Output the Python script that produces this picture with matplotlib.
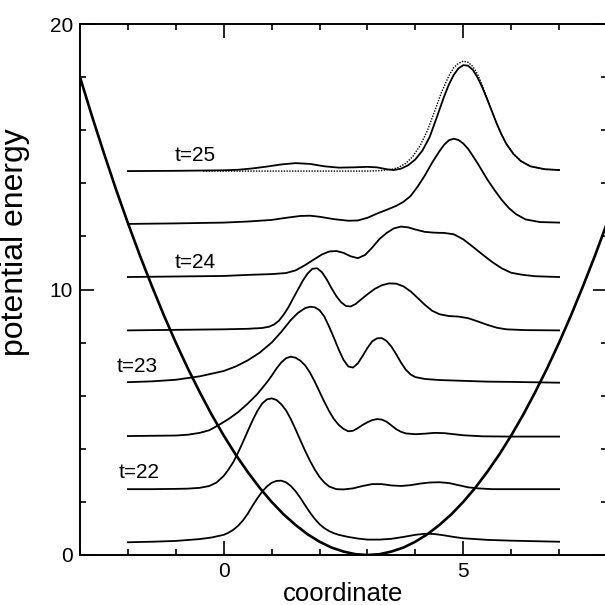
import numpy as np
import matplotlib
matplotlib.use('Agg')
import matplotlib.pyplot as plt
from matplotlib.ticker import MultipleLocator

plt.rcParams['font.family'] = ['Liberation Sans', 'DejaVu Sans']

# potential energy curve
pot_x = [-3, -2.75, -2.5, -2.25, -2, -1.75, -1.5, -1.25, -1, -0.75, -0.5, -0.25,
         0, 0.25, 0.5, 0.75, 1, 1.25, 1.5, 1.75, 2, 2.25, 2.5, 2.75, 3,
         3.25, 3.5, 3.75, 4, 4.25, 4.5, 4.75, 5, 5.25, 5.5, 5.75, 6, 6.25,
         6.5, 6.75, 7, 7.25, 7.5, 7.75, 8]
pot_y = [18, 16.53, 15.13, 13.78, 12.5, 11.28, 10.13, 9.03, 8, 7.03, 6.13, 5.28,
         4.5, 3.78, 3.13, 2.53, 2, 1.53, 1.13, 0.78, 0.5, 0.28, 0.13, 0.03, 0,
         0.03, 0.13, 0.28, 0.5, 0.78, 1.13, 1.53, 2, 2.53, 3.13, 3.78, 4.5, 5.28,
         6.13, 7.03, 8, 9.03, 10.13, 11.28, 12.5]

# wave packets (bottom to top), drawn on their baselines
x1 = [-2, -1.5, -1, -0.5, -0.25, 0, 0.1, 0.2, 0.3, 0.4, 0.5, 0.6, 0.7, 0.8,
      0.9, 1.0, 1.1, 1.2, 1.3, 1.4, 1.5, 1.6, 1.7, 1.8, 1.9, 2.0, 2.1, 2.2,
      2.3, 2.4, 2.6, 2.8, 3.0, 3.25, 3.5, 3.75, 4.0, 4.2, 4.4, 4.6, 4.8, 5.0,
      5.5, 6.0, 6.5, 7]
y1 = [0.48, 0.5, 0.53, 0.6, 0.66, 0.76, 0.84, 0.95, 1.1, 1.3, 1.55, 1.85,
      2.13, 2.38, 2.58, 2.72, 2.79, 2.8, 2.74, 2.6, 2.4, 2.15, 1.87, 1.6, 1.36,
      1.16, 1.01, 0.9, 0.82, 0.76, 0.68, 0.62, 0.58, 0.58, 0.61, 0.68, 0.76,
      0.8, 0.79, 0.74, 0.68, 0.63, 0.57, 0.54, 0.52, 0.5]

x2 = [-2, -1.5, -1, -0.75, -0.5, -0.3, -0.15, 0, 0.1, 0.2, 0.3, 0.4, 0.5,
      0.6, 0.7, 0.8, 0.9, 1.0, 1.1, 1.2, 1.3, 1.4, 1.5, 1.6, 1.7, 1.8, 1.9,
      2.0, 2.1, 2.2, 2.35, 2.5, 2.7, 2.9, 3.1, 3.3, 3.5, 3.7, 3.9, 4.1, 4.3,
      4.5, 4.7, 4.9, 5.1, 5.3, 5.6, 6.0, 6.5, 7]
y2 = [2.48, 2.48, 2.49, 2.5, 2.53, 2.6, 2.73, 2.98, 3.22, 3.5, 3.86, 4.25,
      4.66, 5.06, 5.42, 5.7, 5.86, 5.9, 5.84, 5.68, 5.45, 5.12, 4.73, 4.32,
      3.92, 3.55, 3.22, 2.94, 2.73, 2.58, 2.48, 2.47, 2.51, 2.6, 2.67, 2.67,
      2.62, 2.6, 2.63, 2.69, 2.73, 2.74, 2.71, 2.63, 2.55, 2.51, 2.48, 2.48,
      2.48, 2.48]

x3 = [-2, -1.5, -1, -0.75, -0.5, -0.3, -0.1, 0.1, 0.3, 0.5, 0.7, 0.9, 1.0,
      1.1, 1.2, 1.3, 1.4, 1.5, 1.6, 1.7, 1.8, 1.9, 2.0, 2.1, 2.2, 2.3, 2.4,
      2.5, 2.6, 2.7, 2.8, 2.9, 3.0, 3.1, 3.2, 3.3, 3.4, 3.5, 3.6, 3.7, 3.8,
      4.0, 4.2, 4.4, 4.6, 4.8, 5.0, 5.4, 6.0, 7]
y3 = [4.48, 4.49, 4.5, 4.53, 4.6, 4.7, 4.9, 5.12, 5.38, 5.7, 6.06, 6.5, 6.75,
      7.02, 7.25, 7.41, 7.47, 7.43, 7.32, 7.14, 6.87, 6.53, 6.15, 5.77, 5.42,
      5.12, 4.9, 4.75, 4.66, 4.68, 4.78, 4.9, 5.0, 5.08, 5.12, 5.1, 5.02, 4.88,
      4.74, 4.64, 4.58, 4.55, 4.57, 4.6, 4.59, 4.55, 4.51, 4.47, 4.46, 4.46]

x4 = [-2, -1.5, -1, -0.5, 0, 0.25, 0.5, 0.75, 1.0, 1.2, 1.4, 1.55, 1.7, 1.8,
      1.9, 2.0, 2.1, 2.2, 2.3, 2.4, 2.5, 2.6, 2.7, 2.8, 2.9, 3.0, 3.1, 3.2,
      3.3, 3.4, 3.5, 3.6, 3.7, 3.8, 3.9, 4.0, 4.2, 4.5, 5.0, 5.5, 6.0, 7]
y4 = [6.51, 6.54, 6.6, 6.73, 6.93, 7.1, 7.33, 7.62, 8.0, 8.4, 8.85, 9.12, 9.3,
      9.35, 9.33, 9.22, 8.98, 8.6, 8.18, 7.74, 7.35, 7.1, 7.06, 7.22, 7.5, 7.8,
      8.05, 8.16, 8.17, 8.06, 7.85, 7.56, 7.25, 6.98, 6.8, 6.7, 6.63, 6.59,
      6.56, 6.53, 6.52, 6.49]

x5 = [-2, -1, 0, 0.5, 0.8, 0.95, 1.05, 1.15, 1.25, 1.35, 1.45, 1.55, 1.65,
      1.75, 1.85, 1.95, 2.05, 2.15, 2.25, 2.35, 2.45, 2.55, 2.65, 2.75, 2.85,
      3.0, 3.15, 3.3, 3.45, 3.6, 3.75, 3.9, 4.05, 4.2, 4.35, 4.5, 4.7, 4.9,
      5.1, 5.3, 5.5, 5.7, 5.9, 6.3, 7]
y5 = [8.46, 8.48, 8.5, 8.52, 8.55, 8.6, 8.68, 8.82, 9.05, 9.33, 9.67, 10.0,
      10.33, 10.6, 10.78, 10.8, 10.65, 10.38, 10.05, 9.75, 9.52, 9.38, 9.36,
      9.45, 9.6, 9.82, 10.02, 10.16, 10.23, 10.22, 10.12, 9.93, 9.68, 9.42,
      9.2, 9.07, 9.0, 8.98, 8.92, 8.8, 8.67, 8.56, 8.5, 8.47, 8.46]

x6 = [-2, -1, 0, 0.5, 1.0, 1.3, 1.5, 1.7, 1.9, 2.05, 2.2, 2.35, 2.5, 2.65,
      2.8, 2.95, 3.1, 3.25, 3.4, 3.55, 3.7, 3.85, 4.0, 4.2, 4.4, 4.6, 4.8,
      5.0, 5.2, 5.4, 5.6, 5.8, 6.0, 6.25, 6.5, 7]
y6 = [10.47, 10.49, 10.51, 10.55, 10.58, 10.62, 10.72, 10.92, 11.15, 11.32,
      11.43, 11.45, 11.38, 11.25, 11.18, 11.3, 11.58, 11.9, 12.13, 12.3, 12.37,
      12.34, 12.26, 12.17, 12.14, 12.13, 12.08, 11.89, 11.61, 11.32, 11.04,
      10.8, 10.63, 10.55, 10.5, 10.47]

x7 = [-2, -1, 0, 0.5, 1.0, 1.3, 1.6, 1.8, 2.0, 2.3, 2.6, 2.8, 3.0, 3.2, 3.4,
      3.6, 3.75, 3.9, 4.05, 4.2, 4.35, 4.5, 4.6, 4.7, 4.8, 4.9, 5.0, 5.1, 5.2,
      5.3, 5.4, 5.5, 5.65, 5.8, 5.95, 6.1, 6.3, 6.6, 7]
y7 = [12.47, 12.49, 12.52, 12.56, 12.62, 12.7, 12.77, 12.78, 12.74, 12.65,
      12.59, 12.6, 12.7, 12.86, 13.0, 13.15, 13.3, 13.52, 13.88, 14.3, 14.78,
      15.2, 15.45, 15.62, 15.68, 15.63, 15.5, 15.3, 15.03, 14.75, 14.45, 14.15,
      13.75, 13.38, 13.07, 12.84, 12.64, 12.54, 12.52]

x8 = [-2, -1, 0, 0.3, 0.6, 0.9, 1.2, 1.5, 1.8, 2.1, 2.4, 2.7, 3.0, 3.2, 3.4,
      3.55, 3.7, 3.85, 4.0, 4.15, 4.3, 4.45, 4.6, 4.7, 4.8, 4.9, 5.0, 5.1,
      5.2, 5.3, 5.4, 5.5, 5.6, 5.7, 5.8, 5.9, 6.05, 6.2, 6.4, 6.7, 7]
y8 = [14.46, 14.47, 14.49, 14.51, 14.56, 14.63, 14.71, 14.76, 14.73, 14.64,
      14.59, 14.6, 14.62, 14.6, 14.53, 14.5, 14.55, 14.68, 14.9, 15.24, 15.75,
      16.5, 17.27, 17.72, 18.08, 18.33, 18.45, 18.43, 18.27, 17.98, 17.6,
      17.16, 16.7, 16.24, 15.83, 15.48, 15.1, 14.84, 14.64, 14.53, 14.5]

# dotted reference packet on the t=25 line
xd = [-0.43, 1.0, 2.0, 3.0, 3.3, 3.5, 3.65, 3.8, 3.95, 4.1, 4.25, 4.4, 4.55,
      4.7, 4.8, 4.9, 5.0, 5.1, 5.2, 5.3, 5.4, 5.5, 5.6, 5.7, 5.8, 5.9, 6.05,
      6.2, 6.4, 6.7, 7]
yd = [14.46, 14.46, 14.46, 14.46, 14.48, 14.52, 14.6, 14.75, 15.02, 15.42,
      15.98, 16.7, 17.45, 18.05, 18.35, 18.52, 18.6, 18.56, 18.4, 18.1, 17.68,
      17.2, 16.72, 16.25, 15.83, 15.48, 15.1, 14.84, 14.64, 14.53, 14.5]

labels = ['t=22', 't=23', 't=24', 't=25']
label_x = [-2.2, -2.24, -1.02, -1.02]
label_y = [3.1, 7.09, 11.0, 15.03]

fig = plt.figure(figsize=(6.05, 6.05), dpi=100)
ax = fig.add_axes([80/605, 50/605, 527/605, 531/605])

ax.plot(pot_x, pot_y, color='black', lw=1.9)
curves = [(x1, y1), (x2, y2), (x3, y3), (x4, y4),
          (x5, y5), (x6, y6), (x7, y7), (x8, y8)]
for cx, cy in curves:
    ax.plot(cx, cy, color='black', lw=1.3)
ax.plot(xd, yd, color='black', lw=1.0, ls=(0, (1, 1)))

for s, tx, ty in zip(labels, label_x, label_y):
    ax.text(tx, ty, s, fontsize=15, ha='left', va='center')

ax.set_xlim(-3, 8)
ax.set_ylim(0, 20)
ax.xaxis.set_major_locator(MultipleLocator(5))
ax.xaxis.set_minor_locator(MultipleLocator(1))
ax.yaxis.set_major_locator(MultipleLocator(10))
ax.yaxis.set_minor_locator(MultipleLocator(2))
ax.tick_params(which='both', direction='in', top=True, right=True,
               labelsize=15, width=1.2)
ax.tick_params(which='major', length=10, pad=5)
ax.tick_params(which='minor', length=4)
for sp in ax.spines.values():
    sp.set_linewidth(1.4)

ax.set_xlabel('coordinate', fontsize=18.5, labelpad=1)
ax.set_ylabel('potential energy', fontsize=23)
ax.yaxis.set_label_coords(-0.095, 0.59)

fig.savefig('out.png', dpi=100)
